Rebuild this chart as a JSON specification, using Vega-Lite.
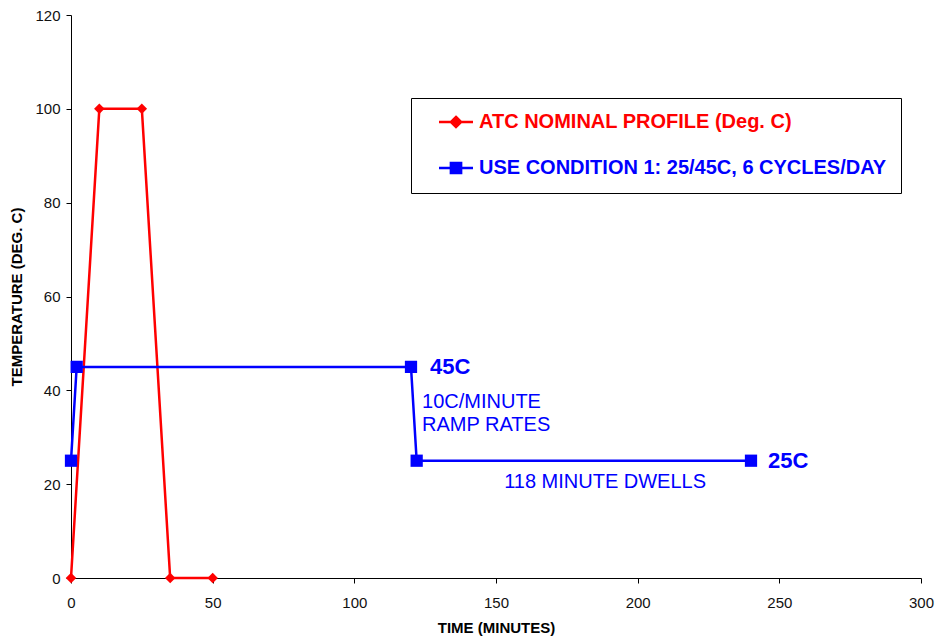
{
  "$schema": "https://vega.github.io/schema/vega-lite/v6.json",
  "autosize": "none",
  "width": 850,
  "height": 563,
  "padding": {"left": 71, "top": 15, "right": 14, "bottom": 59},
  "background": "white",
  "config": {
    "view": {"stroke": null},
    "font": "Liberation Sans",
    "axis": {"grid": false, "domainColor": "black", "tickColor": "black", "labelColor": "#111", "labelFontSize": 15, "titleFontSize": 15, "titleFontWeight": "bold", "titleColor": "black", "tickSize": 5, "domainWidth": 1, "labelFlush": false}
  },
  "datasets": {
    "series": [
      {"series": "ATC NOMINAL PROFILE (Deg. C)", "order": 1, "time": 0, "temp": 0},
      {"series": "ATC NOMINAL PROFILE (Deg. C)", "order": 2, "time": 10, "temp": 100},
      {"series": "ATC NOMINAL PROFILE (Deg. C)", "order": 3, "time": 25, "temp": 100},
      {"series": "ATC NOMINAL PROFILE (Deg. C)", "order": 4, "time": 35, "temp": 0},
      {"series": "ATC NOMINAL PROFILE (Deg. C)", "order": 5, "time": 50, "temp": 0},
      {"series": "USE CONDITION 1: 25/45C, 6 CYCLES/DAY", "order": 1, "time": 0, "temp": 25},
      {"series": "USE CONDITION 1: 25/45C, 6 CYCLES/DAY", "order": 2, "time": 2, "temp": 45},
      {"series": "USE CONDITION 1: 25/45C, 6 CYCLES/DAY", "order": 3, "time": 120, "temp": 45},
      {"series": "USE CONDITION 1: 25/45C, 6 CYCLES/DAY", "order": 4, "time": 122, "temp": 25},
      {"series": "USE CONDITION 1: 25/45C, 6 CYCLES/DAY", "order": 5, "time": 240, "temp": 25}
    ],
    "bignotes": [
      {"time": 126.7, "temp": 45, "label": "45C"},
      {"time": 246, "temp": 25, "label": "25C"}
    ],
    "smallnotes": [
      {"time": 123.9, "temp": 37.5, "label": "10C/MINUTE"},
      {"time": 123.9, "temp": 32.6, "label": "RAMP RATES"}
    ],
    "centernotes": [
      {"time": 188.5, "temp": 20.5, "label": "118 MINUTE DWELLS"}
    ]
  },
  "layer": [
    {
      "data": {"name": "series"},
      "mark": {"type": "line", "strokeWidth": 2.5},
      "encoding": {
        "x": {"field": "time", "type": "quantitative", "scale": {"domain": [0, 300], "nice": false}, "axis": {"values": [0, 50, 100, 150, 200, 250, 300], "title": "TIME (MINUTES)", "labelPadding": 12, "titlePadding": 10}},
        "y": {"field": "temp", "type": "quantitative", "scale": {"domain": [0, 120], "nice": false}, "axis": {"values": [0, 20, 40, 60, 80, 100, 120], "title": "TEMPERATURE (DEG. C)", "labelPadding": 6, "titlePadding": 10}},
        "order": {"field": "order"},
        "color": {"field": "series", "type": "nominal", "scale": {"domain": ["ATC NOMINAL PROFILE (Deg. C)", "USE CONDITION 1: 25/45C, 6 CYCLES/DAY"], "range": ["#FF0000", "#0000FF"]},
          "legend": {
            "title": null,
            "orient": "none",
            "legendX": 340,
            "legendY": 83,
            "strokeColor": "black",
            "fillColor": "white",
            "padding": 14,
            "rowPadding": 24,
            "labelFontSize": 20,
            "labelFont": "Liberation Sans",
            "labelFontWeight": "bold",
            "labelLimit": 700,
            "labelOffset": 13,
            "symbolOffset": 21,
            "symbolSize": 289,
            "symbolStrokeWidth": 2.5,
            "encode": {
              "labels": {"update": {"fill": {"signal": "datum.value === 'ATC NOMINAL PROFILE (Deg. C)' ? '#FF0000' : '#0000FF'"}}},
              "symbols": {"update": {
                "stroke": {"signal": "datum.value === 'ATC NOMINAL PROFILE (Deg. C)' ? '#FF0000' : '#0000FF'"},
                "fill": {"signal": "datum.value === 'ATC NOMINAL PROFILE (Deg. C)' ? '#FF0000' : '#0000FF'"},
                "strokeWidth": {"value": 2.5},
                "opacity": {"value": 1},
                "shape": {"signal": "datum.value === 'ATC NOMINAL PROFILE (Deg. C)' ? 'M-2,0H2M0,-0.6L0.6,0L0,0.6L-0.6,0Z' : 'M-2,0H2M-0.6,-0.6H0.6V0.6H-0.6Z'"}
              }}
            }
          }
        }
      }
    },
    {
      "data": {"name": "series"},
      "transform": [{"filter": "datum.series === 'ATC NOMINAL PROFILE (Deg. C)'"}],
      "mark": {"type": "point", "filled": true, "opacity": 1, "shape": "diamond", "size": 110, "color": "#FF0000"},
      "encoding": {
        "x": {"field": "time", "type": "quantitative"},
        "y": {"field": "temp", "type": "quantitative"}
      }
    },
    {
      "data": {"name": "series"},
      "transform": [{"filter": "datum.series !== 'ATC NOMINAL PROFILE (Deg. C)'"}],
      "mark": {"type": "point", "filled": true, "opacity": 1, "shape": "square", "size": 150, "color": "#0000FF"},
      "encoding": {
        "x": {"field": "time", "type": "quantitative"},
        "y": {"field": "temp", "type": "quantitative"}
      }
    },
    {
      "data": {"name": "bignotes"},
      "mark": {"type": "text", "align": "left", "baseline": "middle", "color": "#0000FF", "font": "Liberation Sans", "fontSize": 22, "fontWeight": "bold"},
      "encoding": {
        "x": {"field": "time", "type": "quantitative"},
        "y": {"field": "temp", "type": "quantitative"},
        "text": {"field": "label"}
      }
    },
    {
      "data": {"name": "smallnotes"},
      "mark": {"type": "text", "align": "left", "baseline": "middle", "color": "#0000FF", "font": "Liberation Sans", "fontSize": 20},
      "encoding": {
        "x": {"field": "time", "type": "quantitative"},
        "y": {"field": "temp", "type": "quantitative"},
        "text": {"field": "label"}
      }
    },
    {
      "data": {"name": "centernotes"},
      "mark": {"type": "text", "align": "center", "baseline": "middle", "color": "#0000FF", "font": "Liberation Sans", "fontSize": 20},
      "encoding": {
        "x": {"field": "time", "type": "quantitative"},
        "y": {"field": "temp", "type": "quantitative"},
        "text": {"field": "label"}
      }
    }
  ]
}
